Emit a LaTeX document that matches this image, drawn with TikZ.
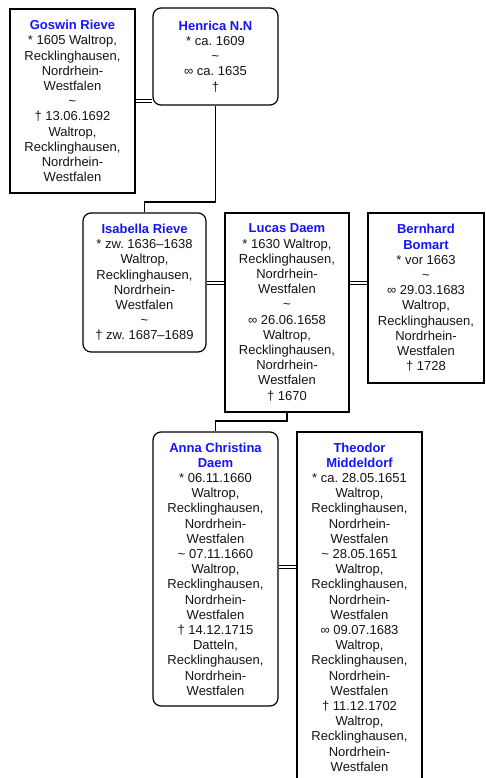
\documentclass[tikz,border=0pt]{standalone}
\usepackage{fontspec}
\setmainfont{Liberation Sans}
\usetikzlibrary{backgrounds}
\frenchspacing
\definecolor{namecol}{RGB}{20,20,250}
\definecolor{txtcol}{RGB}{20,20,20}
\newcommand{\nm}[1]{{\color{namecol}\bfseries #1}}
\newcommand{\tl}{\textasciitilde}
\tikzset{
  person/.style={draw=black, line width=1.2pt, fill=white, inner sep=0pt, align=center,
    text=txtcol, font={\frenchspacing\fontsize{13}{15.2}\selectfont}},
  sq/.style={person, rounded corners=0pt},
  rnd/.style={person, rounded corners=8pt},
  dbl/.style={draw=black, line width=1pt, double=white, double distance=2.6pt},
  link/.style={draw=black, line width=1.2pt}
}
\begin{document}
\begin{tikzpicture}[x=1pt,y=1pt]
\useasboundingbox (0,0) rectangle (485,-778);
\node[sq, minimum width=125, minimum height=184] (gos) at (72.5,-101)
  {\nm{Goswin Rieve}\\* 1605 Waltrop,\\Recklinghausen,\\Nordrhein-\\Westfalen\\\tl\\† 13.06.1692\\Waltrop,\\Recklinghausen,\\Nordrhein-\\Westfalen};
\node[rnd, minimum width=125, minimum height=97] (hen) at (215.5,-56.5)
  {\nm{Henrica N.N}\\* ca. 1609\\\tl\\∞ ca. 1635\\†};
\node[rnd, minimum width=123, minimum height=139] (isa) at (144.5,-282.5)
  {\nm{Isabella Rieve}\\* zw. 1636–1638\\Waltrop,\\Recklinghausen,\\Nordrhein-\\Westfalen\\\tl\\† zw. 1687–1689};
\node[sq, minimum width=124, minimum height=199] (luc) at (287,-312.5)
  {\nm{Lucas Daem}\\* 1630 Waltrop,\\Recklinghausen,\\Nordrhein-\\Westfalen\\\tl\\∞ 26.06.1658\\Waltrop,\\Recklinghausen,\\Nordrhein-\\Westfalen\\† 1670};
\node[sq, minimum width=116, minimum height=170] (ber) at (426,-298)
  {\nm{Bernhard}\\\nm{Bomart}\\* vor 1663\\\tl\\∞ 29.03.1683\\Waltrop,\\Recklinghausen,\\Nordrhein-\\Westfalen\\† 1728};
\node[rnd, minimum width=125, minimum height=274] (ann) at (215.5,-569)
  {\nm{Anna Christina}\\\nm{Daem}\\* 06.11.1660\\Waltrop,\\Recklinghausen,\\Nordrhein-\\Westfalen\\\tl{} 07.11.1660\\Waltrop,\\Recklinghausen,\\Nordrhein-\\Westfalen\\† 14.12.1715\\Datteln,\\Recklinghausen,\\Nordrhein-\\Westfalen};
\node[sq, minimum width=125, minimum height=350] (the) at (359.5,-607)
  {\nm{Theodor}\\\nm{Middeldorf}\\* ca. 28.05.1651\\Waltrop,\\Recklinghausen,\\Nordrhein-\\Westfalen\\\tl{} 28.05.1651\\Waltrop,\\Recklinghausen,\\Nordrhein-\\Westfalen\\∞ 09.07.1683\\Waltrop,\\Recklinghausen,\\Nordrhein-\\Westfalen\\† 11.12.1702\\Waltrop,\\Recklinghausen,\\Nordrhein-\\Westfalen};
\coordinate (m1) at (0,-101);
\coordinate (m2) at (0,-283);
\coordinate (m3) at (0,-567);
\coordinate (j1) at (0,-202);
\coordinate (j2) at (0,-421);
\begin{scope}[on background layer]
\draw[dbl] (gos.east |- m1) -- (hen.west |- m1);
\draw[dbl] (isa.east |- m2) -- (luc.west |- m2);
\draw[dbl] (luc.east |- m2) -- (ber.west |- m2);
\draw[dbl] (ann.east |- m3) -- (the.west |- m3);
\draw[link] (hen.south) -- (hen.south |- j1) -| (isa.north);
\draw[link] (luc.south) -- (luc.south |- j2) -| (ann.north);
\end{scope}
\end{tikzpicture}
\end{document}
